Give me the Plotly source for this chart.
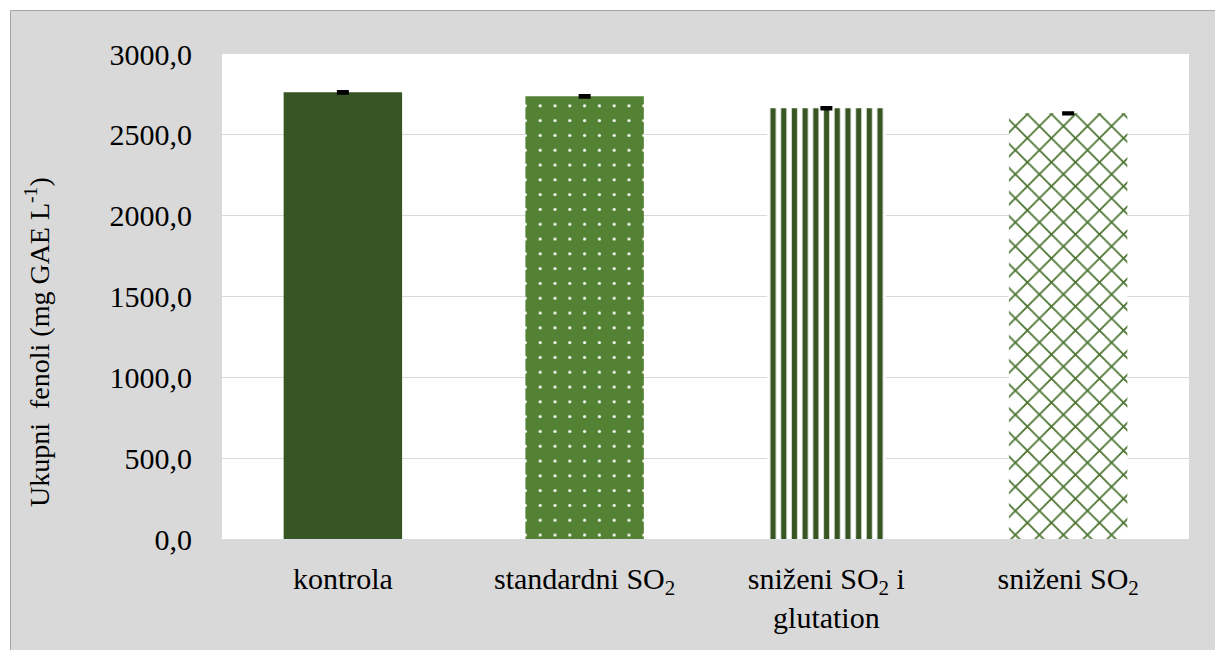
import plotly.graph_objects as go

categories = ["kontrola", "standardni SO<sub>2</sub>", "sniženi SO<sub>2</sub> i<br>glutation", "sniženi SO<sub>2</sub>"]
values = [2763, 2738, 2664, 2633]
errors = [7, 7, 6, 5]
tick_vals = [0, 500, 1000, 1500, 2000, 2500, 3000]

pattern_shapes = ["", ".", "|", "x"]
pattern_fg = ["#375623", "#ffffff", "#375623", "#4a7430"]
pattern_bg = ["#375623", "#548235", "#ffffff", "#ffffff"]
pattern_size = [10, 14.8, 10.7, 17]
pattern_solid = [0.3, 0.035, 0.5, 0.2]

FONT = "Times New Roman, Liberation Serif, serif"
FS = 30

fig = go.Figure()
for i, cat in enumerate(categories):
    fig.add_trace(go.Bar(
        x=[cat],
        y=[values[i]],
        width=0.49,
        marker=dict(
            color=pattern_bg[i],
            line=dict(width=0),
            pattern=dict(
                shape=pattern_shapes[i],
                fgcolor=pattern_fg[i],
                bgcolor=pattern_bg[i],
                size=pattern_size[i],
                solidity=pattern_solid[i],
                fillmode="replace",
            ),
        ),
        error_y=dict(type="data", array=[errors[i]], visible=True, color="black", thickness=2.5, width=6),
        showlegend=False,
    ))

OFF = 8  # page body margin
W, H = 1223 - OFF, 650 - OFF
L, R, T, B = 222 - OFF, 34, 54 - OFF, 111
pw, ph = W - L - R, H - T - B

def px_x(p):
    return (p - OFF - L) / pw

def px_y(p):
    return (H - B - (p - OFF)) / ph

fig.update_layout(
    width=W, height=H,
    margin=dict(l=L, r=R, t=T, b=B),
    barmode="overlay",
    paper_bgcolor="#ffffff",
    plot_bgcolor="#ffffff",
    separators=", ",
    font=dict(family=FONT, size=FS, color="black"),
    xaxis=dict(
        categoryorder="array", categoryarray=categories,
        showgrid=False, showline=True, linecolor="#d9dde3", linewidth=1,
        ticks="", ticklabelstandoff=13,
        tickfont=dict(family=FONT, size=FS, color="black"),
    ),
    yaxis=dict(
        range=[0, 3000], tickvals=tick_vals, tickformat=".1f",
        showgrid=True, gridcolor="#d9d9d9", gridwidth=1,
        zeroline=False, showline=False, ticks="", ticklabelstandoff=29,
        tickfont=dict(family=FONT, size=FS, color="black"),
    ),
    shapes=[
        dict(type="rect", xref="paper", yref="paper", layer="below",
             x0=px_x(10.5), x1=px_x(1260), y0=px_y(700), y1=px_y(10.5),
             fillcolor="#d9d9d9", line=dict(color="#a6a6a6", width=1)),
        dict(type="rect", xref="paper", yref="paper", layer="below",
             x0=0, x1=1, y0=0, y1=1, fillcolor="#ffffff", line=dict(width=0)),
    ],
    annotations=[
        dict(text="Ukupni\u00a0 fenoli (mg GAE L<sup>-1</sup>)", textangle=-90,
             xref="paper", yref="paper", x=px_x(37), y=px_y(342),
             xanchor="center", yanchor="middle", showarrow=False,
             font=dict(family=FONT, size=28, color="black")),
    ],
)

fig.write_html("out.html")
